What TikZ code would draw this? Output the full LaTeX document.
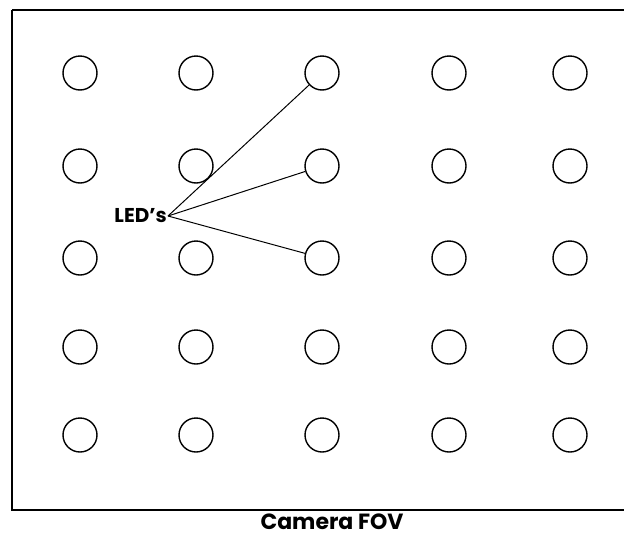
\documentclass[tikz,border=0pt]{standalone}
\usepackage{fontspec}
\setmainfont{Poppins}
\begin{document}
\begin{tikzpicture}[x=1pt,y=-1pt,
  led/.style={circle,draw,line width=1.4pt,minimum size=34pt,inner sep=0pt},
  lbl/.style={font=\bfseries\fontsize{20}{22}\selectfont,inner sep=1pt},
  captiontext/.style={font=\bfseries\fontsize{22}{24}\selectfont,inner sep=1pt},
  frame/.style={line width=1.8pt},
  ptr/.style={line width=1pt}]
\useasboundingbox (0,0) rectangle (624,536);
\draw[frame] (12,10) -- (632,10) (12,10) -- (12,510) -- (632,510);
\foreach \c/\x in {1/80,2/196,3/322,4/449,5/570}{
  \foreach \r/\y in {1/73,2/166,3/258,4/347,5/435}{
    \node[led] (c\r\c) at (\x,\y) {};
  }
}
\node[lbl,anchor=east] (leds) at (168,216) {LED's};
\draw[ptr] (leds.east) -- (c13);
\draw[ptr] (leds.east) -- (c23);
\draw[ptr] (leds.east) -- (c33);
\node[captiontext] (fov) at (332,522) {Camera FOV};
\end{tikzpicture}
\end{document}
